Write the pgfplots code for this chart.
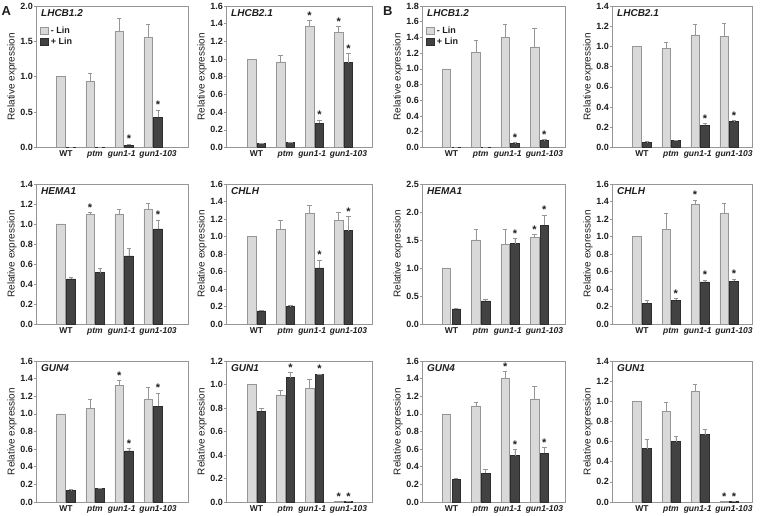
\documentclass[border=0pt]{standalone}
\usepackage{fontspec}
\setmainfont{Liberation Sans}
\usepackage{pgfplots}
\usepackage{pgfplotstable}
\pgfplotsset{compat=1.18}

\definecolor{lightfill}{RGB}{217,217,217}
\definecolor{lightedge}{RGB}{150,150,150}
\definecolor{darkfill}{RGB}{66,66,66}
\definecolor{darkedge}{RGB}{45,45,45}
\definecolor{framegray}{RGB}{150,150,150}
\definecolor{txt}{RGB}{30,30,30}

% columns: x  light(-Lin) err  dark(+Lin) err  star-light star-dark
\pgfplotstableread{
x a ae b be sa sb
0 1.00 0 0.005 0 0 0
1 0.93 0.12 0.005 0 0 0
2 1.64 0.18 0.033 0.015 0 1
3 1.56 0.18 0.43 0.10 0 1
}\tAa
\pgfplotstableread{
x a ae b be sa sb
0 1.00 0 0.045 0.005 0 0
1 0.967 0.07 0.057 0.005 0 0
2 1.37 0.065 0.273 0.04 1 1
3 1.30 0.07 0.96 0.10 1 1
}\tAb
\pgfplotstableread{
x a ae b be sa sb
0 1.00 0 0.45 0.02 0 0
1 1.093 0.02 0.513 0.04 1 0
2 1.10 0.045 0.68 0.08 0 0
3 1.15 0.06 0.95 0.09 0 1
}\tAc
\pgfplotstableread{
x a ae b be sa sb
0 1.00 0 0.15 0.005 0 0
1 1.08 0.11 0.198 0.02 0 0
2 1.27 0.09 0.64 0.09 0 1
3 1.18 0.10 1.067 0.16 0 1
}\tAd
\pgfplotstableread{
x a ae b be sa sb
0 1.00 0 0.13 0.015 0 0
1 1.06 0.10 0.154 0.005 0 0
2 1.32 0.06 0.58 0.03 1 1
3 1.163 0.14 1.088 0.15 0 1
}\tAe
\pgfplotstableread{
x a ae b be sa sb
0 1.00 0 0.774 0.023 0 0
1 0.912 0.04 1.059 0.045 0 1
2 0.969 0.075 1.085 0.005 0 1
3 0.005 0 0.003 0 1 1
}\tAf
\pgfplotstableread{
x a ae b be sa sb
0 1.00 0 0.003 0 0 0
1 1.21 0.15 0.003 0 0 0
2 1.405 0.16 0.05 0.01 0 1
3 1.28 0.23 0.094 0.005 0 1
}\tBa
\pgfplotstableread{
x a ae b be sa sb
0 1.00 0 0.053 0.005 0 0
1 0.983 0.06 0.067 0 0 0
2 1.113 0.11 0.22 0.017 0 1
3 1.097 0.13 0.26 0.005 0 1
}\tBb
\pgfplotstableread{
x a ae b be sa sb
0 1.00 0 0.27 0.01 0 0
1 1.50 0.19 0.414 0.03 0 0
2 1.415 0.27 1.433 0.09 0 1
3 1.553 0.04 1.763 0.18 1 1
}\tBc
\pgfplotstableread{
x a ae b be sa sb
0 1.00 0 0.236 0.03 0 0
1 1.08 0.19 0.274 0.02 0 1
2 1.37 0.045 0.48 0.025 1 1
3 1.265 0.12 0.49 0.025 0 1
}\tBd
\pgfplotstableread{
x a ae b be sa sb
0 1.00 0 0.256 0.015 0 0
1 1.09 0.04 0.327 0.04 0 0
2 1.408 0.07 0.527 0.07 1 1
3 1.17 0.145 0.553 0.064 0 1
}\tBe
\pgfplotstableread{
x a ae b be sa sb
0 1.00 0 0.53 0.097 0 0
1 0.90 0.09 0.60 0.05 0 0
2 1.103 0.07 0.67 0.05 0 0
3 0.004 0 0.003 0 1 1
}\tBf

\tikzset{
  gene/.style={anchor=north west, font=\bfseries\itshape\fontsize{10}{12}\selectfont, inner sep=0pt, text=txt},
}
\pgfplotsset{
  panel/.style={
    scale only axis, ybar, anchor=south west, ymin=0, enlargelimits=false, clip=false,
    axis line style={draw=framegray, line width=0.6pt},
    xtick={0,1,1.92,3.17},
    xticklabels={WT,\textit{ptm},\textit{gun1-1},\textit{gun1-103}},
    x tick style={draw=none}, xtick pos=bottom,
    ytick pos=left, tick align=outside, major tick length=2pt,
    y tick style={draw=framegray, line width=0.6pt},
    tick label style={font=\bfseries\fontsize{9}{10}\selectfont, text=txt},
    xticklabel style={font=\bfseries\fontsize{8.5}{10}\selectfont, yshift=2pt},
    /pgf/number format/assume math mode=true,
    yticklabel style={inner xsep=1pt, /pgf/number format/.cd, fixed, fixed zerofill, precision=1},
    ylabel={Relative expression},
    ylabel style={font=\fontsize{10}{12}\selectfont, text=txt},
    ylabel shift=-1pt,
    legend image code/.code={\draw[##1] (0pt,-3pt) rectangle (8pt,3.5pt);},
    legend style={at={(rel axis cs:0,1)}, anchor=north west, xshift=4pt, yshift=-19pt,
      draw=none, fill=none, inner sep=0pt, font=\bfseries\fontsize{9}{10}\selectfont,
      text=txt, row sep=-1pt},
    legend cell align=left,
  },
  lightbar/.style={fill=lightfill, draw=lightedge, line width=0.6pt, bar width=8.5pt, bar shift=-4.9pt,
    error bars/.cd, y dir=plus, y explicit,
    error bar style={line width=0.6pt, draw=lightedge},
    error mark options={rotate=90, mark size=2.2pt, line width=0.6pt, draw=lightedge}},
  darkbar/.style={fill=darkfill, draw=darkedge, line width=0.6pt, bar width=8.5pt, bar shift=4.9pt,
    error bars/.cd, y dir=plus, y explicit,
    error bar style={line width=0.6pt, draw=framegray},
    error mark options={rotate=90, mark size=2.2pt, line width=0.6pt, draw=framegray}},
  starplot/.style={forget plot, draw=none, fill=none, bar width=8.5pt,
    unbounded coords=discard,
    nodes near coords={*},
    every node near coord/.append style={font=\bfseries\fontsize{11}{11}\selectfont, text=txt, inner sep=1pt, anchor=south}},
}

\newcommand{\panel}[3]{%
\begin{axis}[panel,#1]
\addplot[lightbar] table[x=x,y=a,y error=ae]{#2};
\addplot[darkbar] table[x=x,y=b,y error=be]{#2};
\addplot[starplot, bar shift=-4.9pt, restrict expr to domain={\thisrow{sa}}{0.5:1.5}] table[x=x,y expr=\thisrow{a}+\thisrow{ae}]{#2};
\addplot[starplot, bar shift=4.9pt, restrict expr to domain={\thisrow{sb}}{0.5:1.5}] table[x=x,y expr=\thisrow{b}+\thisrow{be}]{#2};
\node[gene, xshift=5pt, yshift=-3pt] at (rel axis cs:0,1) {#3};
\end{axis}}

\begin{document}
\begin{tikzpicture}
\path[use as bounding box] (0,0) rectangle (760pt,516pt);
% ---- A ----
\panel{at={(36pt,368.5pt)}, width=152pt, height=141.5pt, xmin=-1.03, xmax=4.2, ymax=2.0,
  ytick={0,0.5,1.0,1.5,2.0}, legend entries={- Lin,+ Lin}}{\tAa}{LHCB1.2}
\panel{at={(226pt,368.5pt)}, width=146pt, height=141.5pt, xmin=-1.05, xmax=3.98, ymax=1.6,
  ytick={0,0.2,0.4,0.6,0.8,1.0,1.2,1.4,1.6}}{\tAb}{LHCB2.1}
\panel{at={(36pt,192pt)}, width=152pt, height=140pt, xmin=-1.03, xmax=4.2, ymax=1.4,
  ytick={0,0.2,0.4,0.6,0.8,1.0,1.2,1.4}}{\tAc}{HEMA1}
\panel{at={(226pt,192pt)}, width=146pt, height=140pt, xmin=-1.05, xmax=3.98, ymax=1.6,
  ytick={0,0.2,0.4,0.6,0.8,1.0,1.2,1.4,1.6}}{\tAd}{CHLH}
\panel{at={(36pt,14pt)}, width=152pt, height=141pt, xmin=-1.03, xmax=4.2, ymax=1.6,
  ytick={0,0.2,0.4,0.6,0.8,1.0,1.2,1.4,1.6}}{\tAe}{GUN4}
\panel{at={(226pt,14pt)}, width=146pt, height=141pt, xmin=-1.05, xmax=3.98, ymax=1.2,
  ytick={0,0.2,0.4,0.6,0.8,1.0,1.2}}{\tAf}{GUN1}
% ---- B ----
\panel{at={(422pt,368.5pt)}, width=143pt, height=141.5pt, xmin=-1.0, xmax=3.87, ymax=1.8,
  ytick={0,0.2,0.4,0.6,0.8,1.0,1.2,1.4,1.6,1.8}, legend entries={- Lin,+ Lin}}{\tBa}{LHCB1.2}
\panel{at={(612pt,368.5pt)}, width=140pt, height=141.5pt, xmin=-1.03, xmax=3.79, ymax=1.4,
  ytick={0,0.2,0.4,0.6,0.8,1.0,1.2,1.4}}{\tBb}{LHCB2.1}
\panel{at={(422pt,192pt)}, width=143pt, height=140pt, xmin=-1.0, xmax=3.87, ymax=2.5,
  ytick={0,0.5,1.0,1.5,2.0,2.5}}{\tBc}{HEMA1}
\panel{at={(612pt,192pt)}, width=140pt, height=140pt, xmin=-1.03, xmax=3.79, ymax=1.6,
  ytick={0,0.2,0.4,0.6,0.8,1.0,1.2,1.4,1.6}}{\tBd}{CHLH}
\panel{at={(422pt,14pt)}, width=143pt, height=141pt, xmin=-1.0, xmax=3.87, ymax=1.6,
  ytick={0,0.2,0.4,0.6,0.8,1.0,1.2,1.4,1.6}}{\tBe}{GUN4}
\panel{at={(612pt,14pt)}, width=140pt, height=141pt, xmin=-1.03, xmax=3.79, ymax=1.4,
  ytick={0,0.2,0.4,0.6,0.8,1.0,1.2,1.4}}{\tBf}{GUN1}
\node[anchor=north west, inner sep=0pt, font=\bfseries\fontsize{13}{13}\selectfont, text=txt] at (1.5pt,510pt) {A};
\node[anchor=north west, inner sep=0pt, font=\bfseries\fontsize{13}{13}\selectfont, text=txt] at (383pt,510pt) {B};
\end{tikzpicture}
\end{document}
